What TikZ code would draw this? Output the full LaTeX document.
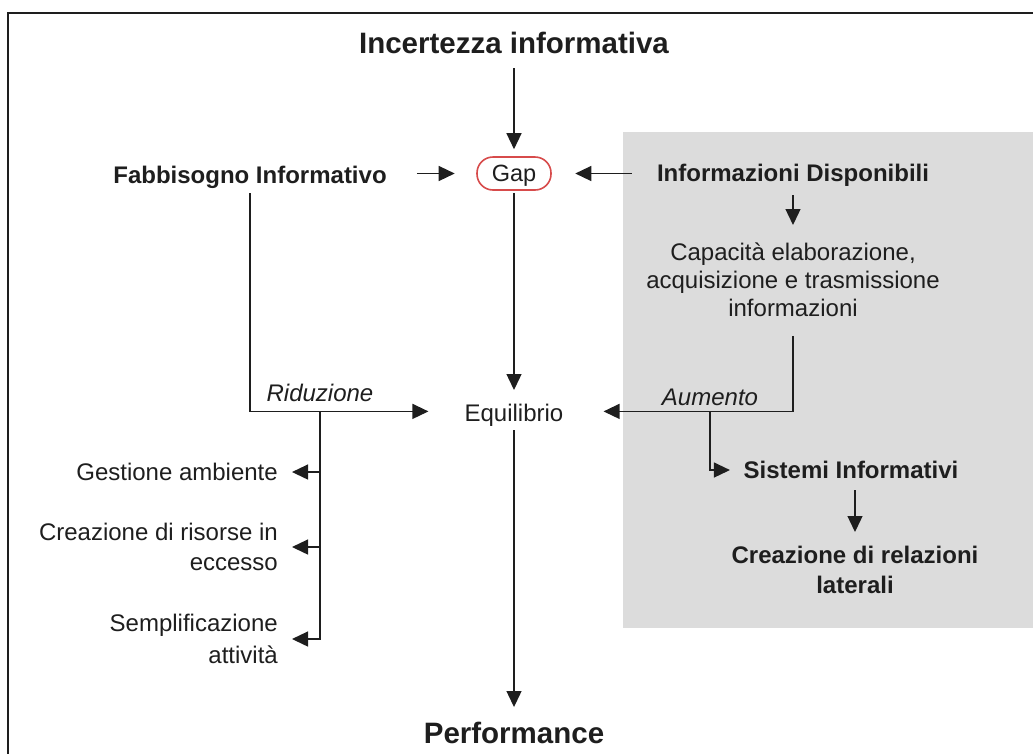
\documentclass[tikz,border=0pt]{standalone}
\usepackage{fontspec}
\setmainfont{Liberation Sans}
\usetikzlibrary{arrows.meta}
\definecolor{panelgray}{RGB}{220,220,220}
\definecolor{gapred}{RGB}{215,75,75}
\definecolor{ink}{RGB}{30,30,30}
\begin{document}
\begin{tikzpicture}[x=1pt,y=-1pt,
  every node/.style={inner sep=0pt, text=ink},
  lab/.style={font=\fontsize{24}{30}\selectfont},
  boldlab/.style={font=\fontsize{24}{30}\selectfont\bfseries},
  biglab/.style={font=\fontsize{29.5}{34}\selectfont\bfseries},
  itlab/.style={font=\fontsize{24}{30}\selectfont\itshape},
  arr/.style={draw=ink, line width=1.3pt, -{Triangle[length=16pt 0 0,width=15pt 0 0]}},
  gapbox/.style={draw=gapred, line width=1.6pt, fill=white, rounded corners=16pt,
    minimum width=74pt, minimum height=33pt, text depth=0pt,
    font=\fontsize{23.5}{28}\selectfont}
]
\useasboundingbox (0,0) rectangle (1033,753);
\begin{scope}
  \clip (0,0) rectangle (1033,753);
  % shaded panel on the right and outer frame
  \fill[panelgray] (623,132) rectangle (1040,628);
  \draw[line width=1.5pt, ink] (8,13) rectangle (1040,760);
\end{scope}

% nodes
\node[biglab, anchor=base] (inc) at (514,53.6) {Incertezza informativa};
\node[gapbox] (gap) at (514,173.5) {Gap};
\node[boldlab, anchor=base] (fab) at (250,183.6) {Fabbisogno Informativo};
\node[boldlab, anchor=base] (info) at (793,181.6) {Informazioni Disponibili};
\node[lab, align=center, anchor=north, font=\fontsize{24}{28}\selectfont] (cap) at (793,243)
  {Capacità elaborazione,\\acquisizione e trasmissione\\informazioni};
\node[lab, anchor=base] (equi) at (514,421.6) {Equilibrio};
\node[itlab, anchor=base] (rid) at (320,401.6) {Riduzione};
\node[itlab, anchor=base] (aum) at (710,405.6) {Aumento};
\node[biglab, anchor=base] (perf) at (514,743.6) {Performance};
\node[boldlab, anchor=base] (sis) at (851,478.6) {Sistemi Informativi};
\node[boldlab, align=center, anchor=north] (rel) at (855,546) {Creazione di relazioni\\laterali};
\node[lab, anchor=base east] (ges) at (278,480.6) {Gestione ambiente};
\node[lab, align=right, anchor=north east] (cre) at (278,523) {Creazione di risorse in\\eccesso};
\node[lab, align=right, anchor=north east, font=\fontsize{24}{32}\selectfont] (sem) at (278,614)
  {Semplificazione\\attività};

% junction points on the horizontal lines into Equilibrio
\path ([yshift=4pt]equi.west) coordinate (eqw) ([yshift=4pt]equi.east) coordinate (eqe);
\coordinate (rb) at (eqw -| rid);
\coordinate (ab) at (eqe -| aum);

% connectors
\draw[arr, shorten <=14pt, shorten >=7pt] (inc) -- (gap);
\draw[arr, shorten <=30pt, shorten >=21.5pt] (fab.east |- gap.west) -- (gap.west);
\draw[arr, shorten <=25pt, shorten >=23.5pt] (info.west |- gap.east) -- (gap.east);
\draw[arr, shorten <=8.4pt, shorten >=18pt] (info.south) -- (cap.north);
\draw[arr, shorten <=2pt, shorten >=14pt] (gap) -- (equi);
\draw[arr, shorten <=3.4pt, shorten >=15pt] (equi) -- (perf);
\draw[arr, shorten <=4.4pt, shorten >=36pt] (fab.south) |- (eqw);
\draw[arr, shorten <=18.5pt, shorten >=40pt] (cap.south) |- (eqe);
\draw[arr, shorten >=14pt] (rb) |- (ges.east);
\draw[arr, shorten >=14pt] (rb) |- (cre.east);
\draw[arr, shorten >=14pt] (rb) |- (sem.east);
\draw[arr, shorten >=13.5pt] (ab) |- (sis.west);
\draw[arr, shorten <=11.4pt, shorten >=14pt] (rel.north |- sis.south) -- (rel.north);
\end{tikzpicture}
\end{document}
